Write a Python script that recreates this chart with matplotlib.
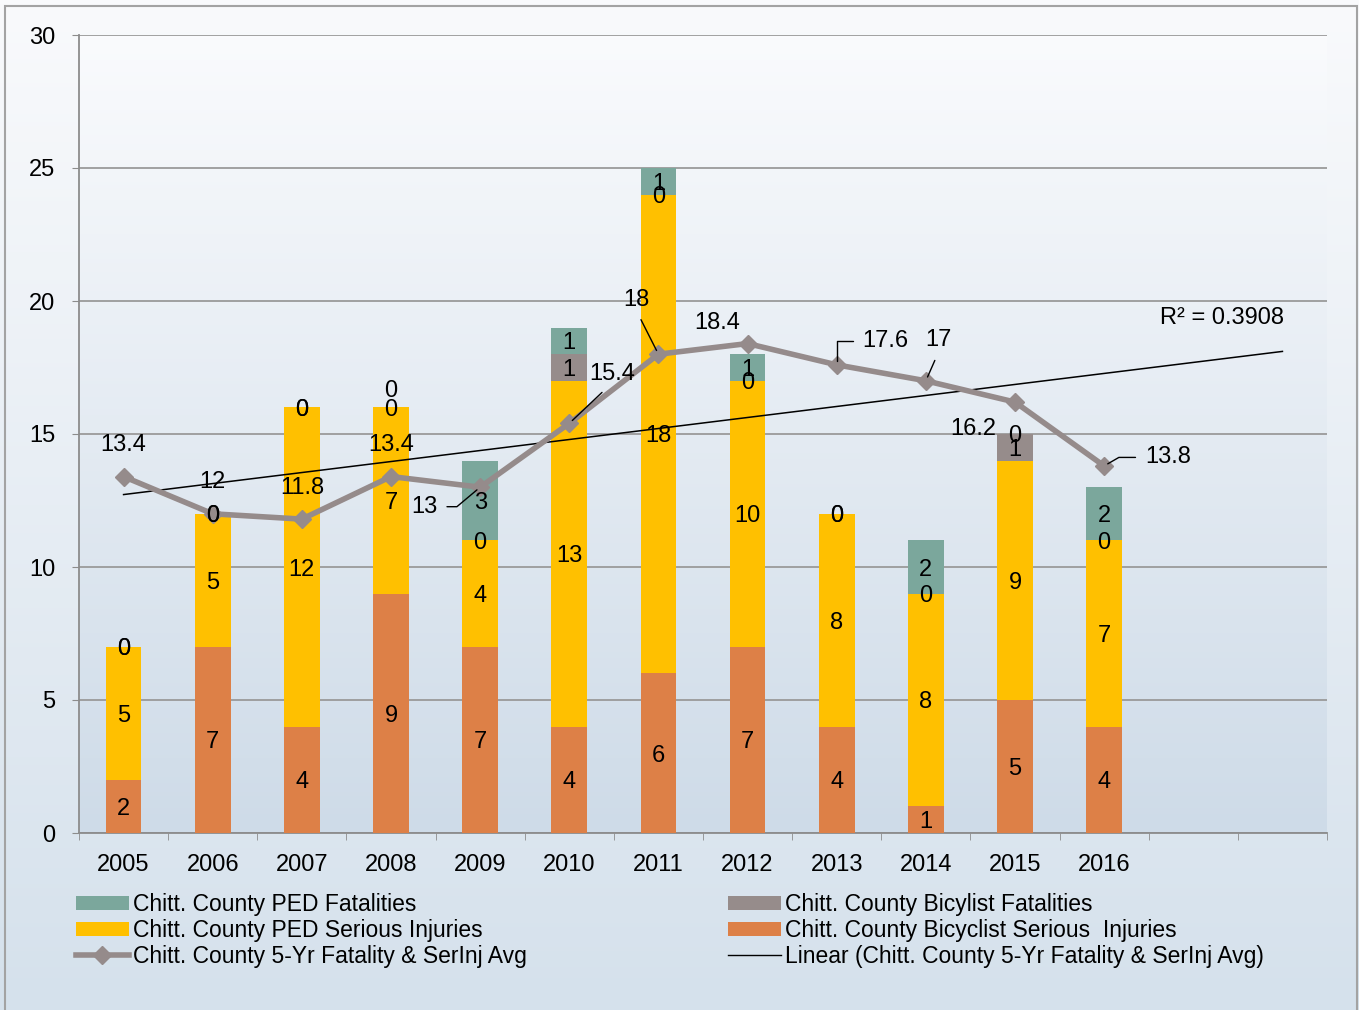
import numpy as np, matplotlib
matplotlib.use("Agg")
import matplotlib.pyplot as plt
from matplotlib.colors import LinearSegmentedColormap
from matplotlib.patches import Patch, Rectangle
from matplotlib.lines import Line2D

plt.rcParams.update({"font.family": ["Liberation Sans", "DejaVu Sans"], "font.size": 17})

years = ["2005", "2006", "2007", "2008", "2009", "2010", "2011", "2012", "2013", "2014", "2015", "2016"]
bike_si = [2, 7, 4, 9, 7, 4, 6, 7, 4, 1, 5, 4]
ped_si = [5, 5, 12, 7, 4, 13, 18, 10, 8, 8, 9, 7]
bike_fat = [0, 0, 0, 0, 0, 1, 0, 0, 0, 0, 1, 0]
ped_fat = [0, 0, 0, 0, 3, 1, 1, 1, 0, 2, 0, 2]
avg5 = [13.4, 12, 11.8, 13.4, 13, 15.4, 18, 18.4, 17.6, 17, 16.2, 13.8]
FORWARD = 2  # trendline forecast periods (adds two empty category slots)

C_PEDF, C_BIKEF, C_PEDSI, C_BIKESI = "#7ba79c", "#968c8b", "#ffc000", "#dd8047"
C_LINE = "#958b8b"

W, H = 1359, 1010
fig = plt.figure(figsize=(W / 100, H / 100), dpi=100)

# chart-area gradient background
bg = fig.add_axes([0, 0, 1, 1], zorder=-10); bg.axis("off")
grad = np.linspace(0, 1, 256)[:, None]
bg.imshow(grad, aspect="auto", extent=[0, 1, 0, 1],
          cmap=LinearSegmentedColormap.from_list("g", ["#f9fafc", "#d5e1ec"]))
bg.set_xlim(0, 1); bg.set_ylim(0, 1)
fig.add_artist(Rectangle((5 / W, -0.01), 1352 / W, 1 - 6 / H + 0.01, transform=fig.transFigure,
                         fill=False, edgecolor="#a3a3a3", lw=1.5))

ax = fig.add_axes([79 / W, 1 - 833 / H, 1248 / W, 798 / H])
ax.imshow(grad, aspect="auto", extent=[0, 1, 0, 1], transform=ax.transAxes, zorder=0,
          cmap=LinearSegmentedColormap.from_list("p", ["#fafbfd", "#cedbe8"]))

x = np.arange(len(years))
n_slots = len(years) + FORWARD
bw = 0.4
segs = [(bike_si, C_BIKESI), (ped_si, C_PEDSI), (bike_fat, C_BIKEF), (ped_fat, C_PEDF)]
bottom = np.zeros(len(years))
label_lift = {(3, 3): 19}  # 2008 PED fatalities "0" nudged up (pixels)
for k, (vals, col) in enumerate(segs):
    vals = np.array(vals, float)
    ax.bar(x, vals, bw, bottom=bottom, color=col, zorder=3)
    for i, v in enumerate(vals):
        ax.annotate(f"{int(v)}", (x[i], bottom[i] + v / 2), xytext=(0, label_lift.get((i, k), 0)),
                    textcoords="offset pixels", ha="center", va="center_baseline", fontsize=17, zorder=6)
    bottom += vals

ax.plot(x, avg5, color=C_LINE, lw=4, marker="D", ms=9, zorder=5)

# linear trendline with forecast
coef = np.polyfit(x, avg5, 1)
xt = np.array([0, len(years) - 1 + FORWARD])
ax.plot(xt, np.polyval(coef, xt), color="black", lw=1.1, zorder=4)
pred = np.polyval(coef, x)
r2 = 1 - ((np.array(avg5) - pred) ** 2).sum() / ((np.array(avg5) - np.mean(avg5)) ** 2).sum()
ax.text(xt[1] + 0.02, 19.45, f"R² = {r2:.4f}", ha="right", va="center_baseline", fontsize=17, zorder=6)

# avg labels: offset (px), relpos of leader on text, connection style (None = no leader)
lbl = [(0, 34, None, None), (0, 34, None, None), (0, 34, None, None), (0, 34, None, None),
       (-56, -17, (1, 0.5), "angle,angleA=0,angleB=40,rad=0"),
       (43, 52, (0.45, 0), "arc3"),
       (-22, 57, (0.5, 0), "arc3"),
       (-30, 23, None, None),
       (49, 26, (0, 0.5), "angle,angleA=0,angleB=90,rad=0"),
       (13, 43, (0.5, 0), "arc3"),
       (-42, -24, None, None),
       (64, 11, (0, 0.5), "angle,angleA=0,angleB=30,rad=0")]
for i, (v, (dx, dy, rp, cs)) in enumerate(zip(avg5, lbl)):
    s = f"{v:g}"
    kw = {}
    if cs is not None:
        kw["arrowprops"] = dict(arrowstyle="-", color="black", lw=1, connectionstyle=cs,
                                relpos=rp, shrinkA=5, shrinkB=3)
    ax.annotate(s, (x[i], v), xytext=(dx, dy), textcoords="offset pixels",
                ha="center", va="center_baseline", fontsize=17, zorder=7, **kw)

ax.set_xlim(-0.5, n_slots - 0.5)
ax.set_ylim(0, 30)
ax.set_yticks(np.arange(0, 31, 5))
ax.set_xticks(x)
ax.set_xticklabels(years)
ax.set_xticks(np.arange(-0.5, n_slots, 1), minor=True)
ax.tick_params(axis="x", which="major", length=0, pad=15)
ax.tick_params(axis="x", which="minor", length=5, color="#8c8c8c", direction="out")
ax.tick_params(axis="y", length=5, color="#8c8c8c", pad=12)
ax.grid(axis="y", color="#9a9a9a", lw=1.3, zorder=1)
ax.set_axisbelow(True)
for sp in ("top", "right"):
    ax.spines[sp].set_visible(False)
for sp in ("left", "bottom"):
    ax.spines[sp].set_color("#8c8c8c"); ax.spines[sp].set_linewidth(1.3)

h_left = [Patch(facecolor=C_PEDF, label="Chitt. County PED Fatalities"),
          Patch(facecolor=C_PEDSI, label="Chitt. County PED Serious Injuries"),
          Line2D([], [], color=C_LINE, lw=4, marker="D", ms=9, label="Chitt. County 5-Yr Fatality & SerInj Avg")]
h_right = [Patch(facecolor=C_BIKEF, label="Chitt. County Bicylist Fatalities"),
           Patch(facecolor=C_BIKESI, label="Chitt. County Bicyclist Serious  Injuries"),
           Line2D([], [], color="black", lw=1, label="Linear (Chitt. County 5-Yr Fatality & SerInj Avg)")]
for hs, xl in ((h_left, 76), (h_right, 728)):
    leg = fig.legend(handles=hs, loc="upper left", bbox_to_anchor=(xl / W, 1 - 893 / H),
                     frameon=False, fontsize=16.5, borderpad=0, borderaxespad=0,
                     handlelength=2.3, handleheight=0.6, handletextpad=0.2, labelspacing=0.13)

fig.savefig("out.png", dpi=100)
